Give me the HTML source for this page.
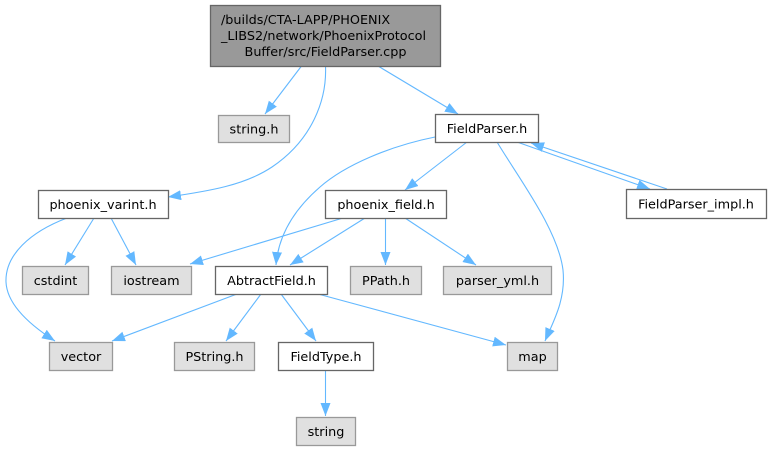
<!DOCTYPE html>
<html>
<head>
<meta charset="utf-8">
<style>
html,body{margin:0;padding:0;background:#fff;}
svg{display:block;}
text{font-family:"DejaVu Sans","Liberation Sans",sans-serif;font-size:12.8px;fill:#000;}
</style>
</head>
<body>
<svg width="772" height="451" viewBox="0 0 772 451" xmlns="http://www.w3.org/2000/svg">
<defs>
<marker id="a" markerUnits="userSpaceOnUse" markerWidth="14" markerHeight="11" refX="13" refY="5" orient="auto">
<path d="M0,0 L13,5 L0,10 z" fill="#63b8ff"/>
</marker>
</defs>
<g fill="none" stroke="#63b8ff" stroke-width="1.1" marker-end="url(#a)">
<path d="M301.5,66 L265,114"/>
<path d="M378,66 L458,114"/>
<path d="M325.5,66 C327,100 312,140 272,167 C245,185 210,191 168,197"/>
<path d="M467,142 L405,190"/>
<path d="M435,137 C390,146 345,165 320,187 C290,213 278,240 276,265"/>
<path d="M497,142 C520,180 558,230 563,270 C566,300 553,322 545,341"/>
<path d="M517,142 L650,189"/>
<path d="M667,189 L531,143"/>
<path d="M94,218 L65,265"/>
<path d="M111,218 L136,265"/>
<path d="M67,218 C30,232 5,255 6,282 C7,305 30,325 55,341"/>
<path d="M343,218 L190,264"/>
<path d="M365,218 L290,265"/>
<path d="M385.5,218 L385.5,265"/>
<path d="M405,218 L476,265"/>
<path d="M237,294 L112,341"/>
<path d="M261,294 L226,341"/>
<path d="M281,294 L316,341"/>
<path d="M318,294 L506,345"/>
<path d="M325.5,370 L325.5,416"/>
</g>
<g stroke-width="1.3">
<rect x="210.5" y="5.5" width="230" height="61" fill="#999999" stroke="#666666"/>
<rect x="218.5" y="115.5" width="71" height="27" fill="#e0e0e0" stroke="#999999"/>
<rect x="435.5" y="114.5" width="103" height="28" fill="#ffffff" stroke="#666666"/>
<rect x="626.5" y="189.5" width="140" height="29" fill="#ffffff" stroke="#666666"/>
<rect x="38.5" y="190.5" width="130" height="28" fill="#ffffff" stroke="#666666"/>
<rect x="325.5" y="190.5" width="121" height="28" fill="#ffffff" stroke="#666666"/>
<rect x="22.5" y="266.5" width="66" height="28" fill="#e0e0e0" stroke="#999999"/>
<rect x="111.5" y="266.5" width="80" height="28" fill="#e0e0e0" stroke="#999999"/>
<rect x="215.5" y="266.5" width="112" height="28" fill="#ffffff" stroke="#666666"/>
<rect x="350.5" y="266.5" width="71" height="28" fill="#e0e0e0" stroke="#999999"/>
<rect x="443.5" y="266.5" width="108" height="28" fill="#e0e0e0" stroke="#999999"/>
<rect x="49.5" y="342.5" width="63" height="28" fill="#e0e0e0" stroke="#999999"/>
<rect x="174.5" y="342.5" width="80" height="28" fill="#e0e0e0" stroke="#999999"/>
<rect x="278.5" y="342.5" width="95" height="28" fill="#ffffff" stroke="#666666"/>
<rect x="507.5" y="342.5" width="50" height="28" fill="#e0e0e0" stroke="#999999"/>
<rect x="296.5" y="417.5" width="59" height="28" fill="#e0e0e0" stroke="#999999"/>
</g>
<text x="221" y="24">/builds/CTA-LAPP/PHOENIX</text>
<text x="221" y="40">_LIBS2/network/PhoenixProtocol</text>
<text x="325.5" y="56" text-anchor="middle">Buffer/src/FieldParser.cpp</text>
<g text-anchor="middle">
<text x="254" y="133.5">string.h</text>
<text x="487" y="133">FieldParser.h</text>
<text x="696" y="208.5">FieldParser_impl.h</text>
<text x="103" y="209">phoenix_varint.h</text>
<text x="386" y="209">phoenix_field.h</text>
<text x="55.5" y="285">cstdint</text>
<text x="151.5" y="285">iostream</text>
<text x="271.5" y="285">AbtractField.h</text>
<text x="386" y="285">PPath.h</text>
<text x="497.5" y="285">parser_yml.h</text>
<text x="81" y="361">vector</text>
<text x="214.5" y="361">PString.h</text>
<text x="326" y="361">FieldType.h</text>
<text x="532.5" y="361">map</text>
<text x="326" y="436">string</text>
</g>
</svg>
</body>
</html>
